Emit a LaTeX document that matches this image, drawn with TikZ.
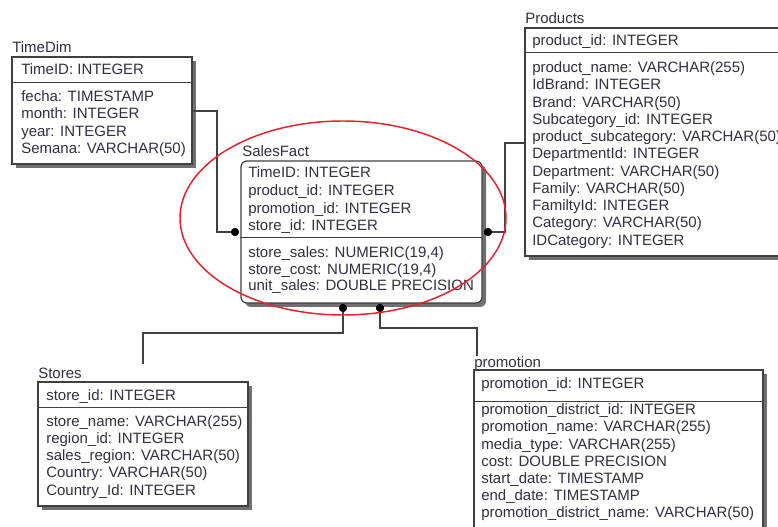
\documentclass[tikz,border=0pt]{standalone}
\usepackage{fontspec}
\setmainfont{Liberation Sans}
\usetikzlibrary{fit,shadows,calc,shapes.geometric}
\definecolor{txt}{HTML}{303040}
\definecolor{frame}{HTML}{404040}
\definecolor{shade}{HTML}{707070}
\definecolor{ered}{HTML}{E8202A}
\tikzset{
  tbl/.style={draw=frame, line width=0.9pt, fill=white, inner sep=0pt,
    drop shadow={shadow xshift=3pt, shadow yshift=-3pt, fill=shade, opacity=1}},
  lbl/.style={anchor=base west, inner sep=0pt, text=txt, font=\fontsize{11.25}{13}\selectfont},
  divider/.style={draw=frame, line width=0.6pt},
  conn/.style={draw=frame, line width=0.8pt},
  fkdot/.style={circle, fill=black, inner sep=0pt, minimum size=6pt},
}
\begin{document}
\begin{tikzpicture}[x=0.75pt,y=-0.75pt]
\useasboundingbox (0,0) rectangle (778,527);
\clip (0,0) rectangle (778,527);
\fill[white] (0,0) rectangle (778,527);

% ---------- TimeDim ----------
\node[lbl] (tdT) at (12,53) {TimeDim};
\node[tbl, fit={(12,57) (192,164)}] (timedim) {};
\draw[divider] (timedim.west |- 0,82) -- (timedim.east |- 0,82);
\node[lbl] (td0) at (21,75) {TimeID: INTEGER};
\foreach \t [count=\i] in {fecha: TIMESTAMP, month: INTEGER, year: INTEGER, Semana: VARCHAR(50)}
  \node[lbl] (td\i) at (21,{84.5+\i*17.2}) {\t};

% ---------- Products ----------
\node[lbl] (prT) at (525,24) {Products};
\node[tbl, fit={(525,28) (800,256)}] (products) {};
\draw[divider] (products.west |- 0,52) -- (products.east |- 0,52);
\node[lbl] (pr0) at (532,46) {product\_id: INTEGER};
\foreach \t [count=\i] in {product\_name: VARCHAR(255), IdBrand: INTEGER, Brand: VARCHAR(50),
  Subcategory\_id: INTEGER, product\_subcategory: VARCHAR(50), DepartmentId: INTEGER,
  Department: VARCHAR(50), Family: VARCHAR(50), FamiltyId: INTEGER, Category: VARCHAR(50),
  IDCategory: INTEGER}
  \node[lbl] (pr\i) at (532,{55.5+\i*17.25}) {\t};

% ---------- Stores ----------
\node[lbl] (stT) at (38,378) {Stores};
\node[tbl, fit={(38,382) (248,506)}] (stores) {};
\draw[divider] (stores.west |- 0,407) -- (stores.east |- 0,407);
\node[lbl] (st0) at (46,400) {store\_id: INTEGER};
\foreach \t [count=\i] in {store\_name: VARCHAR(255), region\_id: INTEGER, sales\_region: VARCHAR(50),
  Country: VARCHAR(50), Country\_Id: INTEGER}
  \node[lbl] (st\i) at (46,{409.5+\i*17.1}) {\t};

% ---------- promotion ----------
\node[lbl] (pmT) at (474,367) {promotion};
\node[tbl, fit={(474,370) (763,560)}] (promotion) {};
\draw[divider] (promotion.west |- 0,401) -- (promotion.east |- 0,401);
\node[lbl] (pm0) at (481,388) {promotion\_id: INTEGER};
\foreach \t [count=\i] in {promotion\_district\_id: INTEGER, promotion\_name: VARCHAR(255),
  media\_type: VARCHAR(255), cost: DOUBLE PRECISION, start\_date: TIMESTAMP,
  end\_date: TIMESTAMP, promotion\_district\_name: VARCHAR(50)}
  \node[lbl] (pm\i) at (481,{397.5+\i*17.2}) {\t};

% ---------- SalesFact ----------
\node[lbl] (sfT) at (242,157) {SalesFact};
\node[tbl, rounded corners=4.5pt, fit={(241,161) (482,303)}] (salesfact) {};
\draw[divider] (salesfact.west |- 0,237) -- (salesfact.east |- 0,237);
\node[lbl] (sf1) at (248,178) {TimeID: INTEGER};
\node[lbl] (sf2) at (248,195.5) {product\_id: INTEGER};
\node[lbl] (sf3) at (248,213.3) {promotion\_id: INTEGER};
\node[lbl] (sf4) at (248,231) {store\_id: INTEGER};
\node[lbl] (sf5) at (248,257.7) {store\_sales: NUMERIC(19,4)};
\node[lbl] (sf6) at (248,274.3) {store\_cost: NUMERIC(19,4)};
\node[lbl] (sf7) at (248,291) {unit\_sales: DOUBLE PRECISION};

% ---------- connectors ----------
\node[fkdot] (d1) at (235,232) {};
\node[fkdot] (d2) at (488,232) {};
\node[fkdot] (d3) at (343,308) {};
\node[fkdot] (d4) at (380,308) {};
\coordinate (sEnd) at (143,364);
\coordinate (pEnd) at (477,356);

\draw[conn] (timedim.east |- 0,111) -| (217,232) -- (d1.center);
\draw[conn] (d2.center) -- (505,232) |- (products.west |- 0,143);
\draw[conn] (d3.center) |- (143,333) -- (sEnd);
\draw[conn] (d4.center) |- (477,328) -- (pEnd);
\foreach \d in {d1,d2,d3,d4} \node[fkdot] at (\d) {};

% ---------- highlight ----------
\node[draw=ered, ellipse, line width=1.1pt, inner sep=0pt,
      minimum width=244.5pt, minimum height=145.5pt] (focus) at (343,218) {};
\end{tikzpicture}
\end{document}
